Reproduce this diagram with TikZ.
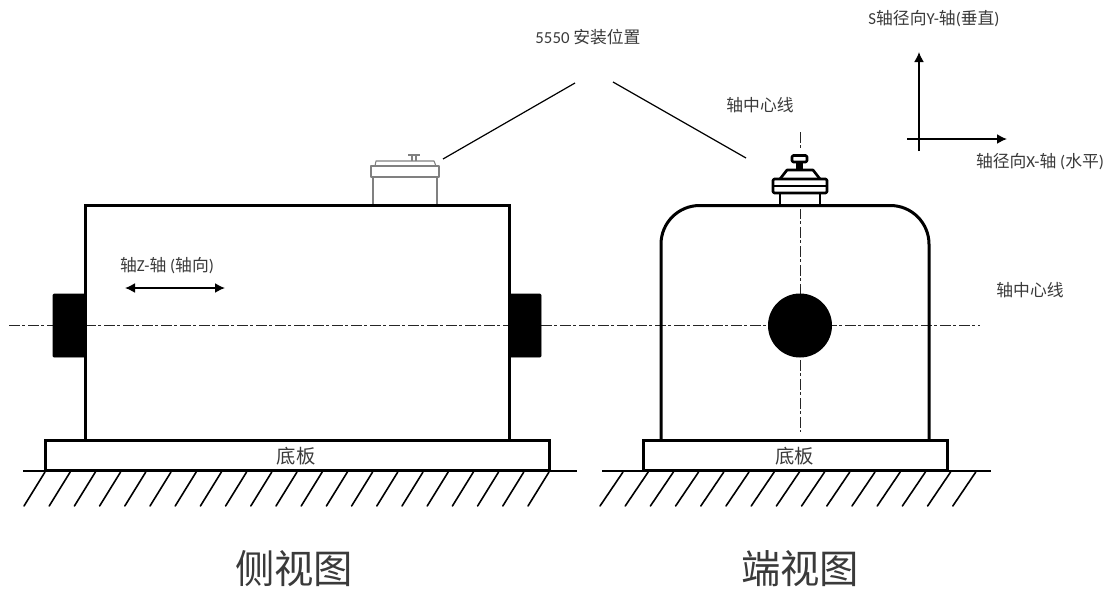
\documentclass[tikz,border=0pt]{standalone}
\usepackage{fontspec}
\setmainfont{Carlito}
\newfontfamily\cjk{Noto Sans CJK SC}
\usetikzlibrary{arrows.meta}
\definecolor{txt}{HTML}{3A3A3A}
\tikzset{
  px/.style={x=0.75pt,y=-0.75pt},
  heavy/.style={draw=black,line width=2.25pt,line join=miter},
  medium/.style={draw=black,line width=2pt,line join=round},
  thin line/.style={draw=black,line width=0.9pt},
  ground/.style={draw=black,line width=1.2pt},
  hatch/.style={draw=black,line width=1.2pt,line cap=round},
  centre/.style={draw=black!85,line width=0.75pt,dash pattern=on 8pt off 2.1pt on 2pt off 2.15pt},
  grey/.style={draw=black!50,line width=0.8pt,line join=round},
  solid block/.style={fill=black,draw=black,line width=0.6pt,rounded corners=0.8pt},
  axis/.style={draw=black,line width=1.25pt,-{Latex[length=7.5pt,width=7.5pt]}},
  both/.style={draw=black,line width=1.25pt,{Latex[length=7.5pt,width=7.5pt]}-{Latex[length=7.5pt,width=7.5pt]}},
  small/.style={text=txt,font=\fontsize{12.6}{15}\selectfont,inner sep=0pt},
  base label/.style={text=txt,font=\cjk\fontsize{14.5}{17}\selectfont,inner sep=0pt},
  big/.style={text=txt,font=\cjk\fontsize{29.5}{34}\selectfont,inner sep=0pt},
}
\begin{document}
\begin{tikzpicture}[px]
\useasboundingbox (0,0) rectangle (1107,590);
% centre lines
\coordinate (hl) at (9,325); \coordinate (hr) at (980,325);
\coordinate (vt) at (800,132); \coordinate (vb) at (800,432);
\path[centre] (hl) -- (hr);
\path[centre] (vt) -- (vb);
% left view
\path[solid block] (53,294) rectangle (85,357);
\path[solid block] (509,294) rectangle (541,357);
\path[heavy] (85,440) -- (85,205) -- (509,205) -- (509,440);
\path[heavy] (45,470) rectangle (549,440);
\coordinate (gl1) at (23,471); \coordinate (gl2) at (577,471);
\path[ground] (gl1) -- (gl2);
\foreach \i in {0,...,20} \path[hatch] ({45+\i*25.2},472) -- ({24+\i*25.2},506);
% left sensor (grey)
\path[grey] (373,177) -- (373,204); \path[grey] (437,177) -- (437,204);
\path[grey] (371,166) rectangle (439,177);
\path[grey] (375,166) -- (376,161) -- (434,161) -- (436,166);
\path[grey] (412,161) -- (412,156); \path[grey] (416,161) -- (416,156);
\path[grey,line width=1.1pt] (408,155) -- (420,155);
% right view
\path[fill=white] (780,150) rectangle (820,209);
\path[heavy,rounded corners=29pt] (661,440) -- (661,205.5) -- (929,205.5) -- (929,440);
\path[heavy] (643,470) rectangle (947,440);
\coordinate (gr1) at (602,471); \coordinate (gr2) at (991,471);
\path[ground] (gr1) -- (gr2);
\foreach \i in {0,...,14} \path[hatch] ({623+\i*25.2},472) -- ({600+\i*25.2},506);
\path[fill=black] (800,325.5) circle (32);
% right sensor
\path[medium] (780,193) -- (780,205); \path[medium] (820,193) -- (820,205);
\path[medium,rounded corners=1pt] (773,179) rectangle (827,193);
\path[medium] (773,186) -- (827,186);
\path[medium] (780,179) -- (787,170) -- (813,170) -- (820,179);
\path[fill=black] (796,162) rectangle (803,170);
\path[medium,fill=white,rounded corners=1pt] (792,155.5) rectangle (807,162);
% leaders and axes
\coordinate (l1a) at (443,159); \coordinate (l1b) at (575,83);
\coordinate (l2a) at (613,82); \coordinate (l2b) at (746,158);
\path[thin line] (l1a) -- (l1b);
\path[thin line] (l2a) -- (l2b);
\coordinate (ya) at (919,151); \coordinate (yb) at (919,52);
\coordinate (xa) at (907,139); \coordinate (xb) at (1007,139);
\coordinate (za) at (125,288); \coordinate (zb) at (225,288);
\path[axis] (ya) -- (yb);
\path[axis] (xa) -- (xb);
\path[both] (za) -- (zb);
% labels
\node[small] (t1) at (934,19) {S{\cjk 轴径向}Y-{\cjk 轴}({\cjk 垂直})};
\node[small] (t2) at (588,37) {5550 {\cjk 安装位置}};
\node[small] (t3) at (760,105.5) {\cjk 轴中心线};
\node[small] (t4) at (1040,162) {{\cjk 轴径向}X-{\cjk 轴} ({\cjk 水平})};
\node[small] (t5) at (167,266) {{\cjk 轴}Z-{\cjk 轴} ({\cjk 轴向})};
\node[small] (t6) at (1030,290) {\cjk 轴中心线};
\node[base label] (b1) at (296,456) {底板};
\node[base label] (b2) at (794.5,456) {底板};
\node[big] (v1) at (294,568.5) {侧视图};
\node[big] (v2) at (800,568.5) {端视图};
\end{tikzpicture}
\end{document}
